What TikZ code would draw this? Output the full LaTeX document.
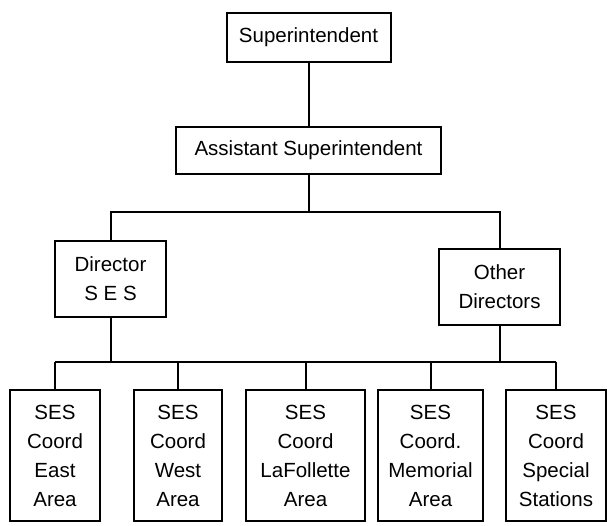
\documentclass[tikz,border=0pt]{standalone}
\usepackage{fontspec}
\setmainfont{Liberation Sans}
\usepackage{tikz}

\begin{document}
\begin{tikzpicture}[x=1pt, y=1pt,
    kotak/.style={draw, line width=2pt, align=center, inner sep=0pt,
        font=\fontsize{20.5}{29}\selectfont},
    garis/.style={line width=2pt}]
    \useasboundingbox (0,0) rectangle (607,526);

    % Pimpinan
    \node[kotak, minimum width=164, minimum height=49] (super) at (308.5,488.5) {Superintendent};
    \node[kotak, minimum width=265, minimum height=47] (assist) at (308.5,375.5) {Assistant Superintendent};

    % Direktur
    \node[kotak, minimum width=111, minimum height=76] (director) at (110.5,247) {Director\\S E S};
    \node[kotak, minimum width=121, minimum height=76] (other) at (499.5,239) {Other\\Directors};

    % Koordinator SES
    \foreach \nama/\x/\w/\teks in {east/55/90/{SES\\Coord\\East\\Area},
                                   west/178/88/{SES\\Coord\\West\\Area},
                                   lafollette/305.5/119/{SES\\Coord\\LaFollette\\Area},
                                   memorial/430.5/105/{SES\\Coord.\\Memorial\\Area},
                                   stations/556/100/{SES\\Coord\\Special\\Stations}}
        \node[kotak, minimum width=\w, minimum height=131] (\nama) at (\x,70.5) {\teks};

    % Garis cabang
    \coordinate (busA) at (0,314);
    \coordinate (busB) at (0,164);

    \draw[garis] (super) -- (assist);
    \draw[garis] (assist.south) -- (assist.south |- busA);
    \draw[garis] (director.north) -- (director.north |- busA) -- (other.north |- busA) -- (other.north);

    \draw[garis] (director.south) -- (director.south |- busB);
    \draw[garis] (other.south) -- (other.south |- busB);
    \draw[garis] (east.north |- busB) -- (stations.north |- busB);
    \foreach \nama in {east, west, lafollette, memorial, stations}
        \draw[garis] (\nama.north) -- (\nama.north |- busB);
\end{tikzpicture}
\end{document}
